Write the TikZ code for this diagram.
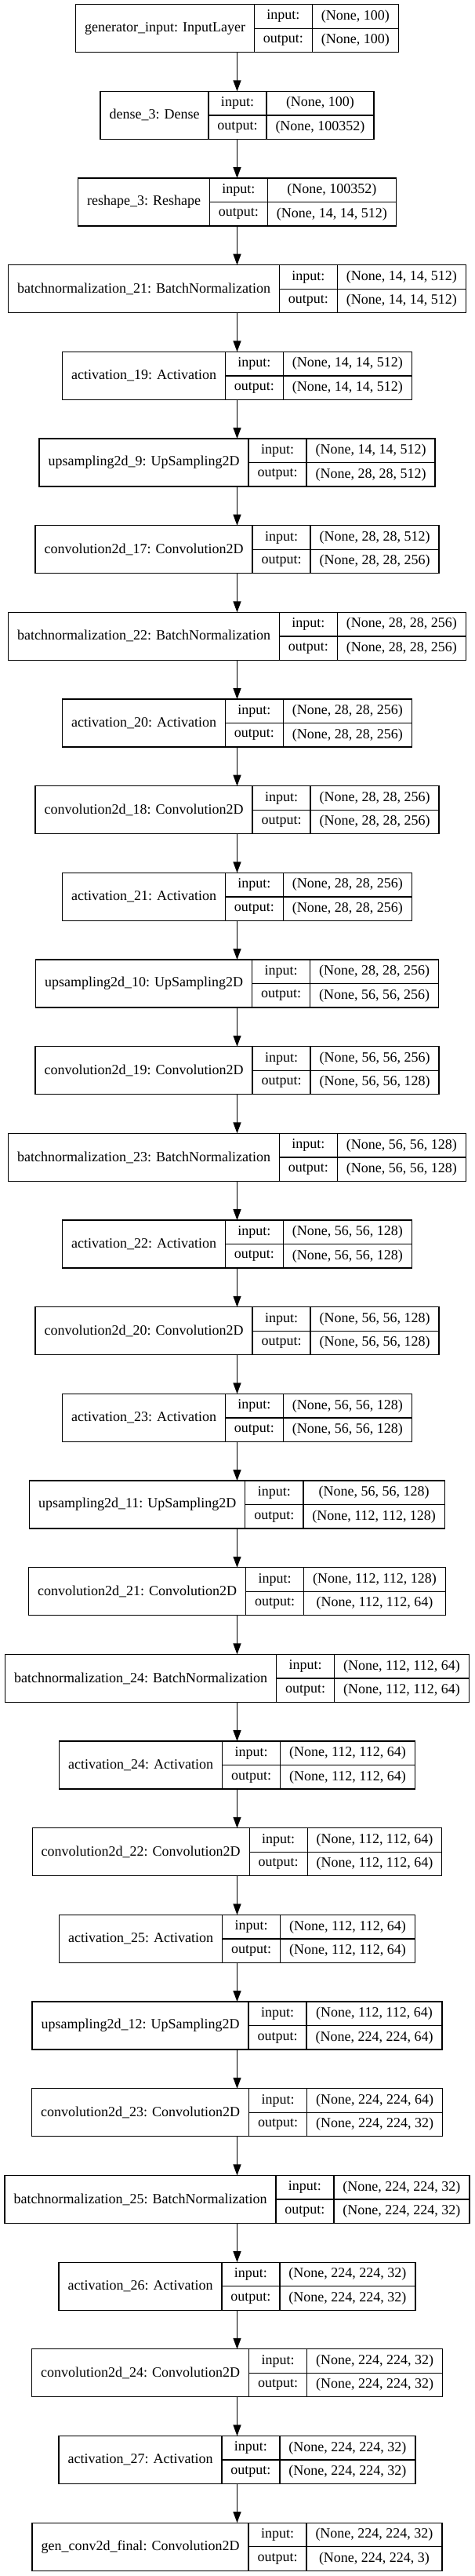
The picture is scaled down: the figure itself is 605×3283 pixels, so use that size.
\documentclass[tikz,border=0pt]{standalone}
\usepackage{fontspec}
\setmainfont{Liberation Serif}
\usetikzlibrary{arrows.meta}
\newdimen\kwL \newdimen\kwV \newdimen\kwT \newdimen\kwIO
\newbox\kbox
\newcommand\kfont{\fontsize{18}{21}\selectfont}
\newcommand\kmeasure[2]{% #1 dimen, #2 text
  \pgfinterruptpicture\global\setbox\kbox=\hbox{\normalfont\kfont #2}\endpgfinterruptpicture
  #1=\wd\kbox}
\tikzset{
  box/.style={draw, line width=1.3pt, minimum height=61pt, inner sep=0pt, outer sep=0pt},
  cellL/.style={draw, line width=1.3pt, minimum height=61pt, inner sep=0pt, outer sep=0pt, font=\kfont},
  cellH/.style={draw, line width=1.3pt, minimum height=30.5pt, inner sep=0pt, outer sep=0pt, font=\kfont},
  arr/.style={line width=1.3pt, -{Triangle[length=14pt,width=10pt]}}
}
\newcommand\klayer[5]{%
  \kmeasure\kwL{#3}\advance\kwL by 23pt
  \kmeasure\kwV{#4}\kmeasure\kwT{#5}%
  \ifdim\kwT>\kwV \kwV=\kwT\fi
  \advance\kwV by 23pt
  \kmeasure\kwIO{output:}\advance\kwIO by 23pt
  \pgfmathsetmacro\ktot{\kwL+\kwIO+\kwV}%
  \pgfmathsetmacro\kcy{5.7+#2*110.67+30.5}%
  \edef\kwLv{\the\kwL}\edef\kwIOv{\the\kwIO}\edef\kwVv{\the\kwV}%
  \node[box, minimum width=\ktot pt] (#1) at (302.5,\kcy) {};
  \node[cellL, minimum width=\kwLv, anchor=north west] (#1-l) at (#1.north west) {#3};
  \node[cellH, minimum width=\kwIOv, anchor=north west] (#1-i) at (#1-l.north east) {input:};
  \node[cellH, minimum width=\kwIOv, anchor=north west] (#1-o) at (#1-i.south west) {output:};
  \node[cellH, minimum width=\kwVv, anchor=north west] (#1-vi) at (#1-i.north east) {#4};
  \node[cellH, minimum width=\kwVv, anchor=north west] (#1-vo) at (#1-o.north east) {#5};
}
\begin{document}
\begin{tikzpicture}[x=1pt, y=-1pt]
\useasboundingbox[fill=white] (0,0) rectangle (605,3283);
\klayer{n1}{0}{generator\_input: InputLayer}{(None, 100)}{(None, 100)}
\klayer{n2}{1}{dense\_3: Dense}{(None, 100)}{(None, 100352)}
\klayer{n3}{2}{reshape\_3: Reshape}{(None, 100352)}{(None, 14, 14, 512)}
\klayer{n4}{3}{batchnormalization\_21: BatchNormalization}{(None, 14, 14, 512)}{(None, 14, 14, 512)}
\klayer{n5}{4}{activation\_19: Activation}{(None, 14, 14, 512)}{(None, 14, 14, 512)}
\klayer{n6}{5}{upsampling2d\_9: UpSampling2D}{(None, 14, 14, 512)}{(None, 28, 28, 512)}
\klayer{n7}{6}{convolution2d\_17: Convolution2D}{(None, 28, 28, 512)}{(None, 28, 28, 256)}
\klayer{n8}{7}{batchnormalization\_22: BatchNormalization}{(None, 28, 28, 256)}{(None, 28, 28, 256)}
\klayer{n9}{8}{activation\_20: Activation}{(None, 28, 28, 256)}{(None, 28, 28, 256)}
\klayer{n10}{9}{convolution2d\_18: Convolution2D}{(None, 28, 28, 256)}{(None, 28, 28, 256)}
\klayer{n11}{10}{activation\_21: Activation}{(None, 28, 28, 256)}{(None, 28, 28, 256)}
\klayer{n12}{11}{upsampling2d\_10: UpSampling2D}{(None, 28, 28, 256)}{(None, 56, 56, 256)}
\klayer{n13}{12}{convolution2d\_19: Convolution2D}{(None, 56, 56, 256)}{(None, 56, 56, 128)}
\klayer{n14}{13}{batchnormalization\_23: BatchNormalization}{(None, 56, 56, 128)}{(None, 56, 56, 128)}
\klayer{n15}{14}{activation\_22: Activation}{(None, 56, 56, 128)}{(None, 56, 56, 128)}
\klayer{n16}{15}{convolution2d\_20: Convolution2D}{(None, 56, 56, 128)}{(None, 56, 56, 128)}
\klayer{n17}{16}{activation\_23: Activation}{(None, 56, 56, 128)}{(None, 56, 56, 128)}
\klayer{n18}{17}{upsampling2d\_11: UpSampling2D}{(None, 56, 56, 128)}{(None, 112, 112, 128)}
\klayer{n19}{18}{convolution2d\_21: Convolution2D}{(None, 112, 112, 128)}{(None, 112, 112, 64)}
\klayer{n20}{19}{batchnormalization\_24: BatchNormalization}{(None, 112, 112, 64)}{(None, 112, 112, 64)}
\klayer{n21}{20}{activation\_24: Activation}{(None, 112, 112, 64)}{(None, 112, 112, 64)}
\klayer{n22}{21}{convolution2d\_22: Convolution2D}{(None, 112, 112, 64)}{(None, 112, 112, 64)}
\klayer{n23}{22}{activation\_25: Activation}{(None, 112, 112, 64)}{(None, 112, 112, 64)}
\klayer{n24}{23}{upsampling2d\_12: UpSampling2D}{(None, 112, 112, 64)}{(None, 224, 224, 64)}
\klayer{n25}{24}{convolution2d\_23: Convolution2D}{(None, 224, 224, 64)}{(None, 224, 224, 32)}
\klayer{n26}{25}{batchnormalization\_25: BatchNormalization}{(None, 224, 224, 32)}{(None, 224, 224, 32)}
\klayer{n27}{26}{activation\_26: Activation}{(None, 224, 224, 32)}{(None, 224, 224, 32)}
\klayer{n28}{27}{convolution2d\_24: Convolution2D}{(None, 224, 224, 32)}{(None, 224, 224, 32)}
\klayer{n29}{28}{activation\_27: Activation}{(None, 224, 224, 32)}{(None, 224, 224, 32)}
\klayer{n30}{29}{gen\_conv2d\_final: Convolution2D}{(None, 224, 224, 32)}{(None, 224, 224, 3)}
\foreach \a [evaluate=\a as \b using int(\a+1)] in {1,...,29}
  \draw[arr] (n\a.south) -- (n\b.north);
\end{tikzpicture}
\end{document}
